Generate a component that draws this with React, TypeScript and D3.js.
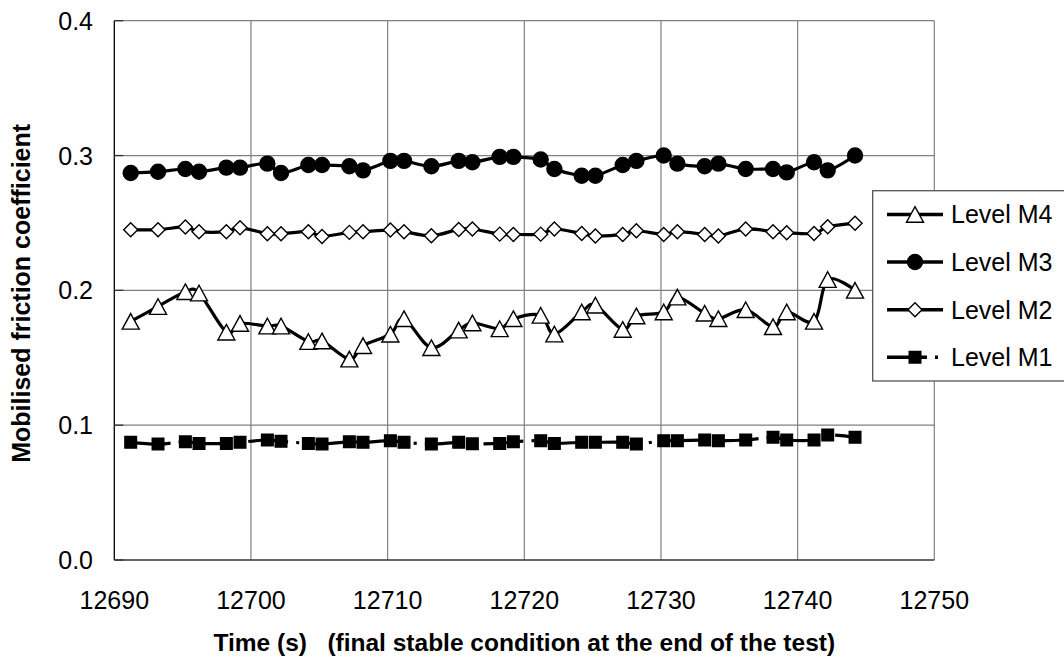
import React from "react";
import * as d3 from "d3";

const times = [12691.2, 12693.2, 12695.2, 12696.2, 12698.2, 12699.2, 12701.2, 12702.2, 12704.2, 12705.2, 12707.2, 12708.2, 12710.2, 12711.2, 12713.2, 12715.2, 12716.2, 12718.2, 12719.2, 12721.2, 12722.2, 12724.2, 12725.2, 12727.2, 12728.2, 12730.2, 12731.2, 12733.2, 12734.2, 12736.2, 12738.2, 12739.2, 12741.2, 12742.2, 12744.2];

const levelM4 = [0.177, 0.188, 0.199, 0.198, 0.169, 0.1755, 0.1735, 0.1735, 0.162, 0.1625, 0.149, 0.159, 0.1675, 0.179, 0.1575, 0.1705, 0.1758, 0.1715, 0.179, 0.1815, 0.1676, 0.184, 0.189, 0.171, 0.181, 0.184, 0.195, 0.183, 0.179, 0.1856, 0.173, 0.184, 0.177, 0.208, 0.2];
const levelM3 = [0.287, 0.288, 0.29, 0.288, 0.291, 0.291, 0.294, 0.287, 0.293, 0.293, 0.292, 0.289, 0.296, 0.296, 0.292, 0.296, 0.295, 0.299, 0.299, 0.297, 0.29, 0.285, 0.285, 0.293, 0.296, 0.3, 0.294, 0.292, 0.294, 0.29, 0.29, 0.2875, 0.295, 0.289, 0.3];
const levelM2 = [0.245, 0.245, 0.247, 0.2435, 0.2435, 0.2465, 0.242, 0.242, 0.2435, 0.24, 0.243, 0.2435, 0.2447, 0.2435, 0.2405, 0.2452, 0.2455, 0.2417, 0.2415, 0.2417, 0.2455, 0.2422, 0.2403, 0.2415, 0.2442, 0.2415, 0.2435, 0.2415, 0.2403, 0.2455, 0.2435, 0.2427, 0.2422, 0.2472, 0.2497];
const levelM1 = [0.0873, 0.086, 0.0877, 0.0865, 0.0865, 0.0873, 0.089, 0.088, 0.0865, 0.086, 0.0877, 0.0873, 0.0885, 0.0873, 0.086, 0.0873, 0.0862, 0.0865, 0.0877, 0.0885, 0.0865, 0.0873, 0.0873, 0.0873, 0.086, 0.0885, 0.0885, 0.089, 0.0885, 0.089, 0.091, 0.089, 0.089, 0.0927, 0.091];

const seriesNames = ["Level M4", "Level M3", "Level M2", "Level M1"];
const xTicks = [12690, 12700, 12710, 12720, 12730, 12740, 12750];
const yTicks = [0, 0.1, 0.2, 0.3, 0.4];

const FONT = "Arial, 'Liberation Sans', Helvetica, sans-serif";

type Marker = "triangle" | "circle" | "diamond" | "square";

function markerPath(kind: Marker, cx: number, cy: number): string {
  if (kind === "triangle") {
    const w = 8.5, h = 7.8;
    return `M${cx},${cy - h}L${cx + w},${cy + h}L${cx - w},${cy + h}Z`;
  }
  if (kind === "diamond") {
    const r = 7;
    return `M${cx},${cy - r}L${cx + r},${cy}L${cx},${cy + r}L${cx - r},${cy}Z`;
  }
  if (kind === "square") {
    const r = 5.8;
    return `M${cx - r},${cy - r}H${cx + r}V${cy + r}H${cx - r}Z`;
  }
  const r = 7.5;
  return `M${cx - r},${cy}A${r},${r} 0 1,0 ${cx + r},${cy}A${r},${r} 0 1,0 ${cx - r},${cy}Z`;
}

export default function App() {
  const left = 114.3, right = 934.3, top = 20.7, bottom = 560;
  const x = d3.scaleLinear().domain([12690, 12750]).range([left, right]);
  const y = d3.scaleLinear().domain([0, 0.4]).range([bottom, top]);

  const series: { name: string; values: number[]; marker: Marker; fill: string; dash?: string }[] = [
    { name: seriesNames[0], values: levelM4, marker: "triangle", fill: "#fff" },
    { name: seriesNames[1], values: levelM3, marker: "circle", fill: "#000" },
    { name: seriesNames[2], values: levelM2, marker: "diamond", fill: "#fff" },
    { name: seriesNames[3], values: levelM1, marker: "square", fill: "#000", dash: "40,8,3,8" },
  ];

  const line = d3
    .line<number>()
    .x((_, i) => x(times[i]))
    .y((v) => y(v))
    .curve(d3.curveCardinal.tension(0));

  const legendTop = 190.7, legendBottom = 381, legendLeft = 872.7;
  const rowH = (legendBottom - legendTop) / 4;

  return (
    <svg
      width={1064}
      height={662}
      style={{ position: "absolute", left: 0, top: 0, background: "#fff" }}
      fontFamily={FONT}
    >
      <rect x={0} y={0} width={1064} height={662} fill="#fff" />
      {yTicks.slice(1).map((t) => (
        <line key={"gy" + t} x1={left} x2={right} y1={y(t)} y2={y(t)} stroke="#808080" strokeWidth={1.2} />
      ))}
      {xTicks.slice(1).map((t) => (
        <line key={"gx" + t} x1={x(t)} x2={x(t)} y1={top} y2={bottom} stroke="#808080" strokeWidth={1.2} />
      ))}
      <line x1={left} x2={left} y1={top} y2={bottom} stroke="#000" strokeWidth={1.3} />
      <line x1={left} x2={right} y1={bottom} y2={bottom} stroke="#333" strokeWidth={1.3} />
      {yTicks.map((t) => (
        <line key={"ty" + t} x1={left} x2={left + 9} y1={y(t)} y2={y(t)} stroke="#333" strokeWidth={1.3} />
      ))}
      {yTicks.map((t) => (
        <text key={"ly" + t} x={93} y={y(t) + 9} textAnchor="end" fontSize={25} fill="#000">
          {d3.format(".1f")(t)}
        </text>
      ))}
      {xTicks.map((t) => (
        <text key={"lx" + t} x={x(t)} y={608.5} textAnchor="middle" fontSize={25} fill="#000">
          {t}
        </text>
      ))}
      <text
        x={(left + right) / 2}
        y={651}
        textAnchor="middle"
        fontSize={24.5}
        fontWeight="bold"
        style={{ whiteSpace: "pre" }}
        xmlSpace="preserve"
      >
        {"Time (s)   (final stable condition at the end of the test)"}
      </text>
      <text
        transform={`translate(30,${(top + bottom) / 2 + 3}) rotate(-90)`}
        textAnchor="middle"
        fontSize={25}
        fontWeight="bold"
      >
        Mobilised friction coefficient
      </text>
      {series.map((s) => (
        <g key={s.name}>
          <path d={line(s.values) || ""} fill="none" stroke="#000" strokeWidth={3.2} strokeDasharray={s.dash} />
          {s.values.map((v, i) => (
            <path
              key={i}
              d={markerPath(s.marker, x(times[i]), y(v))}
              fill={s.fill}
              stroke="#000"
              strokeWidth={1.4}
            />
          ))}
        </g>
      ))}
      <rect x={legendLeft} y={legendTop} width={300} height={legendBottom - legendTop} fill="#fff" stroke="#555" strokeWidth={1.3} />
      {series.map((s, i) => {
        const cy = legendTop + rowH * (i + 0.5);
        return (
          <g key={"leg" + s.name}>
            <line x1={887} x2={943} y1={cy} y2={cy} stroke="#000" strokeWidth={3.5} strokeDasharray={s.dash} />
            <path d={markerPath(s.marker, 915, cy)} fill={s.fill} stroke="#000" strokeWidth={1.4} />
            <text x={951} y={cy + 9} fontSize={25} fill="#000">
              {s.name}
            </text>
          </g>
        );
      })}
    </svg>
  );
}
